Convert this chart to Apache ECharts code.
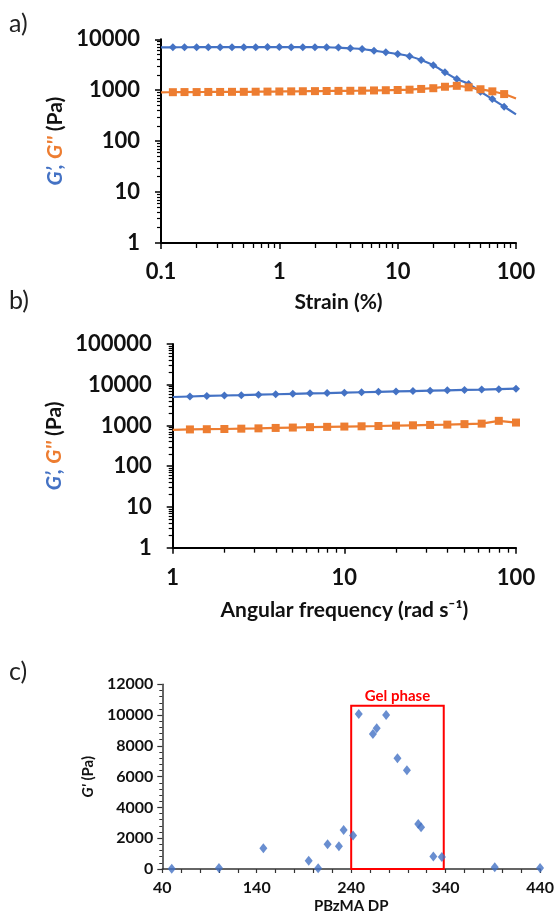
<!DOCTYPE html>
<html>
<head>
<meta charset="utf-8">
<script src="https://cdn.jsdelivr.net/npm/echarts@6/dist/echarts.min.js"></script>
<style>
html,body{margin:0;padding:0;background:#fff;}
#chart{width:557px;height:918px;}
</style>
</head>
<body>
<div id="chart"></div>
<script>
// ---------- Data ----------
// Panel a: strain sweep
const strainA = [0.1, 0.126, 0.158, 0.2, 0.251, 0.316, 0.398, 0.501, 0.631, 0.794,
  1, 1.26, 1.58, 2, 2.51, 3.16, 3.98, 5.01, 6.31, 7.94,
  10, 12.6, 15.8, 20, 25.1, 31.6, 39.8, 50.1, 63.1, 79.4, 100];
const gPrimeA = [6950, 6970, 6980, 6990, 7000, 7000, 7010, 7020, 7020, 7030,
  7030, 7020, 7010, 7000, 6980, 6870, 6650, 6450, 5980, 5550,
  5140, 4650, 3920, 3080, 2250, 1660, 1320, 935, 670, 475, 336];
const gDoublePrimeA = [910, 915, 920, 920, 925, 925, 930, 930, 935, 940,
  945, 950, 955, 960, 965, 970, 975, 980, 990, 1000,
  1010, 1025, 1060, 1095, 1170, 1220, 1140, 1045, 950, 840, 690];
const hiddenMarkersA = [0, 30];

// Panel b: frequency sweep
const freqB = [1, 1.26, 1.58, 2, 2.51, 3.16, 3.98, 5.01, 6.31, 7.94,
  10, 12.6, 15.8, 20, 25.1, 31.6, 39.8, 50.1, 63.1, 79.4, 100];
const gPrimeB = [5000, 5150, 5300, 5450, 5550, 5700, 5850, 6000, 6150, 6250,
  6400, 6550, 6700, 6850, 7000, 7150, 7300, 7450, 7600, 7800, 8000];
const gDoublePrimeB = [780, 800, 810, 820, 835, 850, 870, 890, 910, 925,
  940, 955, 970, 990, 1010, 1030, 1050, 1080, 1110, 1300, 1180];
const hiddenMarkersB = [0];

// Panel c: G' vs PBzMA DP
const dpC = [50, 100, 147, 195, 205, 215, 227, 232, 242, 248, 263, 267, 277, 289, 299, 311, 314, 327, 336, 392, 440];
const gPrimeC = [20, 65, 1350, 530, 45, 1600, 1470, 2540, 2180, 10070, 8770, 9140, 10000, 7190, 6410, 2920, 2710, 820, 780, 110, 65];
const gelBoxX = [240, 338];
const gelBoxTop = 10600;
const gelLabel = 'Gel phase';

// Tick labels
const xTicksA = [0.1, 1, 10, 100];
const yTicksA = [1, 10, 100, 1000, 10000];
const xTicksB = [1, 10, 100];
const yTicksB = [1, 10, 100, 1000, 10000, 100000];
const xTicksC = [40, 140, 240, 340, 440];
const yTicksC = [0, 2000, 4000, 6000, 8000, 10000, 12000];
const minorStepC = 20;

// ---------- Helpers ----------
function logMinors(majors) {
  const out = [];
  for (let i = 0; i < majors.length - 1; i++) {
    for (let m = 2; m <= 9; m++) out.push(+(majors[i] * m).toPrecision(6));
  }
  return out;
}
function pts(xs, ys, hidden) {
  return xs.map((x, i) => hidden.indexOf(i) >= 0 ? { value: [x, ys[i]], symbol: 'none' } : [x, ys[i]]);
}
const BLUE = '#4472C4', ORANGE = '#ED7D31', RED = '#FF0000';
const FONT = 'Lato, "Open Sans", sans-serif';
const TICK = 22, NAME = 21;
const fmt = v => String(v);

const minorXC = [];
for (let v = xTicksC[0]; v <= xTicksC[xTicksC.length - 1]; v += minorStepC) minorXC.push(v);

function logX(grid, min, max, ticks, name, gap, margin) {
  return [{
    gridIndex: grid, type: 'log', logBase: 10, min: min, max: max, position: 'bottom',
    axisLine: { show: true, onZero: false, lineStyle: { color: '#000', width: 2 } },
    axisTick: { show: true, customValues: ticks, length: 6, lineStyle: { color: '#000', width: 1.5 } },
    axisLabel: { customValues: ticks, formatter: fmt, margin: margin, fontSize: TICK, fontWeight: 'bold', color: '#111', fontFamily: FONT },
    splitLine: { show: false },
    name: name, nameLocation: 'middle', nameGap: gap,
    nameTextStyle: { fontSize: NAME, fontWeight: 'bold', color: '#111', fontFamily: FONT }
  }, {
    gridIndex: grid, type: 'log', logBase: 10, min: min, max: max, position: 'bottom',
    axisLine: { show: false, onZero: false },
    axisTick: { show: true, customValues: logMinors(ticks), length: 5, lineStyle: { color: '#000', width: 1.3 } },
    axisLabel: { show: false }, splitLine: { show: false }
  }];
}
function logY(grid, min, max, ticks, gap) {
  return [{
    gridIndex: grid, type: 'log', logBase: 10, min: min, max: max, position: 'left',
    axisLine: { show: true, onZero: false, lineStyle: { color: '#000', width: 2 } },
    axisTick: { show: true, customValues: ticks, length: 6, lineStyle: { color: '#000', width: 1.5 } },
    axisLabel: { customValues: ticks, formatter: fmt, margin: 21, fontSize: TICK, fontWeight: 'bold', color: '#111', fontFamily: FONT },
    splitLine: { show: false },
    name: "{b|G\u2019,} {o|G''} {k|(Pa)}", nameLocation: 'middle', nameGap: gap, nameRotate: 90,
    nameTextStyle: {
      fontSize: NAME, fontWeight: 'bold', fontFamily: FONT, color: '#111',
      rich: {
        b: { color: BLUE, fontStyle: 'italic', fontWeight: 'bold', fontSize: NAME, fontFamily: FONT },
        o: { color: ORANGE, fontStyle: 'italic', fontWeight: 'bold', fontSize: NAME, fontFamily: FONT },
        k: { color: '#111', fontWeight: 'bold', fontSize: NAME, fontFamily: FONT }
      }
    }
  }, {
    gridIndex: grid, type: 'log', logBase: 10, min: min, max: max, position: 'left',
    axisLine: { show: false, onZero: false },
    axisTick: { show: true, customValues: logMinors(ticks), length: 4, lineStyle: { color: '#000', width: 1.2 } },
    axisLabel: { show: false }, splitLine: { show: false }
  }];
}

const xAxes = [].concat(
  logX(0, 0.1, 100, xTicksA, 'Strain (%)', 49, 18),
  logX(1, 1, 100, xTicksB, 'Angular frequency (rad s\u207B\u00B9)', 52, 19),
  [{
    gridIndex: 2, type: 'value', min: xTicksC[0], max: xTicksC[xTicksC.length - 1], position: 'bottom',
    axisLine: { show: true, onZero: false, lineStyle: { color: '#333', width: 1.5 } },
    axisTick: { show: true, customValues: minorXC, length: 4, lineStyle: { color: '#333', width: 1.2 } },
    axisLabel: { customValues: xTicksC, formatter: fmt, margin: 11, fontSize: 16, fontWeight: 'bold', color: '#111', fontFamily: FONT },
    splitLine: { show: false },
    name: 'PBzMA DP', nameLocation: 'middle', nameGap: 30,
    nameTextStyle: { fontSize: 15, fontWeight: 'bold', color: '#111', fontFamily: FONT }
  }]
);
const yAxes = [].concat(
  logY(0, 1, 10000, yTicksA, 82),
  logY(1, 1, 100000, yTicksB, 94),
  [{
    gridIndex: 2, type: 'value', min: yTicksC[0], max: yTicksC[yTicksC.length - 1], interval: 2000, position: 'left',
    axisLine: { show: true, onZero: false, lineStyle: { color: '#333', width: 1.5 } },
    axisTick: { show: true, length: 5, lineStyle: { color: '#333', width: 1.2 } },
    minorTick: { show: true, splitNumber: 5, length: 3, lineStyle: { color: '#333', width: 1 } },
    axisLabel: { formatter: fmt, margin: 9, fontSize: 16, fontWeight: 'bold', color: '#111', fontFamily: FONT },
    splitLine: { show: false },
    name: "{i|G'} {k|(Pa)}", nameLocation: 'middle', nameGap: 43, nameRotate: 90,
    nameTextStyle: {
      fontSize: 15, fontWeight: 'bold', color: '#111', fontFamily: FONT,
      rich: {
        i: { fontStyle: 'italic', fontWeight: 'bold', fontSize: 15, color: '#111', fontFamily: FONT },
        k: { fontWeight: 'bold', fontSize: 15, color: '#111', fontFamily: FONT }
      }
    }
  }]
);

function lineSeries(xi, yi, data, color, symbol, size, smooth) {
  return {
    type: 'line', xAxisIndex: xi, yAxisIndex: yi, data: data, smooth: smooth,
    symbol: symbol, symbolSize: size, showAllSymbol: true,
    lineStyle: { color: color, width: 2.2 }, itemStyle: { color: color },
    emphasis: { disabled: true }, animation: false, z: 3
  };
}

const option = {
  backgroundColor: '#fff',
  animation: false,
  grid: [
    { left: 161, top: 39.3, width: 355, height: 203.7, containLabel: false },
    { left: 172.7, top: 344, width: 343.3, height: 203.7, containLabel: false },
    { left: 162.3, top: 684.3, width: 387.7, height: 184.7, containLabel: false }
  ],
  xAxis: xAxes,
  yAxis: yAxes,
  graphic: [
    { type: 'text', left: 9, top: 11, style: { text: 'a)', fontSize: 25, fontFamily: FONT, fill: '#222' } },
    { type: 'text', left: 9, top: 288, style: { text: 'b)', fontSize: 25, fontFamily: FONT, fill: '#222' } },
    { type: 'text', left: 9, top: 659, style: { text: 'c)', fontSize: 25, fontFamily: FONT, fill: '#222' } }
  ],
  series: [
    lineSeries(0, 0, pts(strainA, gPrimeA, hiddenMarkersA), BLUE, 'diamond', 8, 0.3),
    lineSeries(0, 0, pts(strainA, gDoublePrimeA, hiddenMarkersA), ORANGE, 'rect', 8, 0.3),
    lineSeries(2, 2, pts(freqB, gPrimeB, hiddenMarkersB), BLUE, 'diamond', 8, false),
    lineSeries(2, 2, pts(freqB, gDoublePrimeB, hiddenMarkersB), ORANGE, 'rect', 8, false),
    {
      type: 'scatter', xAxisIndex: 4, yAxisIndex: 4,
      data: dpC.map((x, i) => [x, gPrimeC[i]]),
      symbol: 'diamond', symbolSize: [8, 10], itemStyle: { color: BLUE },
      emphasis: { disabled: true }, z: 4,
      markArea: {
        silent: true,
        itemStyle: { color: 'rgba(0,0,0,0)', borderColor: RED, borderWidth: 2 },
        label: { show: true, position: 'top', distance: 1, color: RED, fontSize: 15, fontWeight: 'bold', fontFamily: FONT },
        data: [[{ name: gelLabel, coord: [gelBoxX[0], 0] }, { coord: [gelBoxX[1], gelBoxTop] }]]
      }
    }
  ]
};

const chart = echarts.init(document.getElementById('chart'), null, { renderer: 'canvas' });
chart.setOption(option);
</script>
</body>
</html>
